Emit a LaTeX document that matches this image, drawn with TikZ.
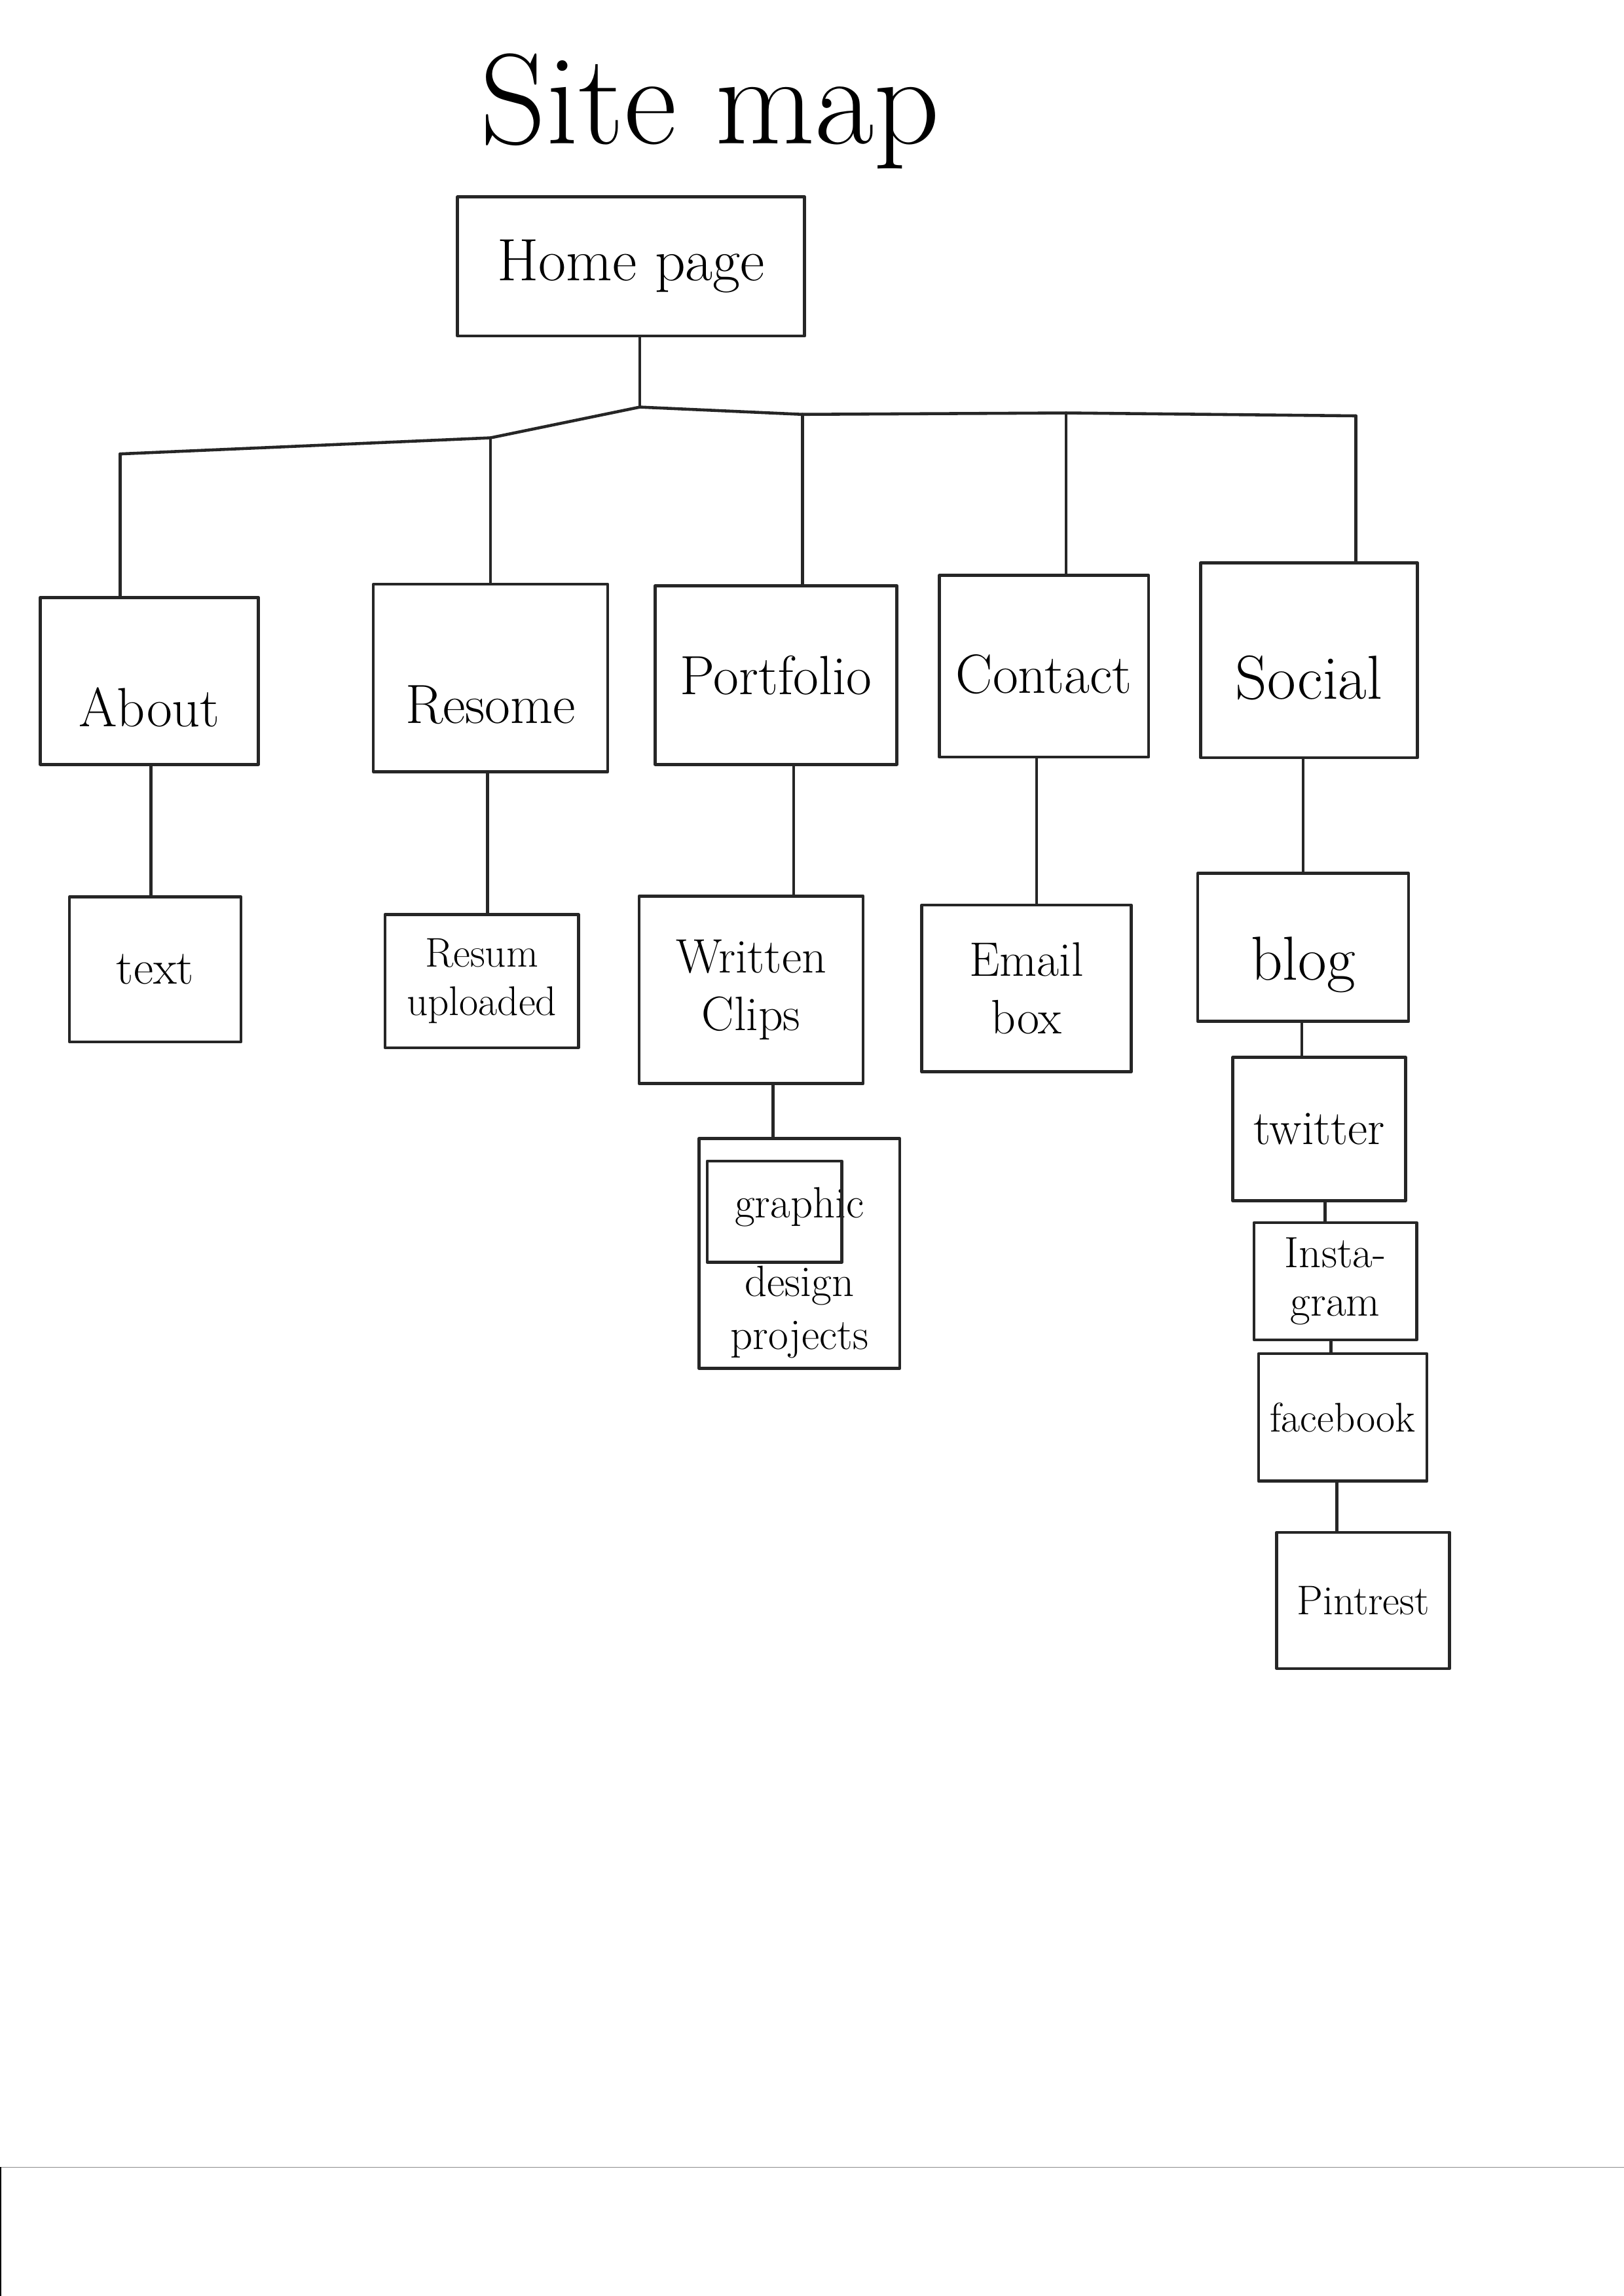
\documentclass[tikz,border=0pt]{standalone}
\usepackage{fontspec}
\setmainfont{Latin Modern Roman}
\begin{document}
\begin{tikzpicture}[x=0.02236cm,y=-0.02236cm,
  pen/.style={line width=1.3pt, draw=black!85, line cap=round, line join=round},
  box/.style={pen, inner sep=0pt, align=center},
  sz/.style 2 args={minimum width=#1*0.2236mm, minimum height=#2*0.2236mm},
  big/.style={font=\fontsize{24}{28}\selectfont},
  mid/.style={font=\fontsize{21}{25}\selectfont},
  small/.style={font=\fontsize{18}{21}\selectfont}]
\useasboundingbox (0,0) rectangle (1109,1568);
\fill[white] (0,0) rectangle (1109,1568);

% title
\node[font=\fontsize{56}{64}\selectfont] (title) at (485,76) {Site map};

% root
\node[box, sz={237}{95}, font=\fontsize{26}{30}\selectfont] (home) at (431,182) {Home page};

% level 1
\node[box, sz={149}{114}, big, text height=40pt] (about) at (102,465) {About};
\node[box, sz={160}{128}, big, text height=40pt] (resome) at (335,463) {Resome};
\node[box, sz={165}{122}, big] (portfolio) at (530,461) {Portfolio};
\node[box, sz={143}{124}, big, text height=24pt] (contact) at (713,455) {Contact};
\node[box, sz={148}{133}, font=\fontsize{27}{30}\selectfont, text height=34pt] (social) at (894,451) {Social};

% level 2
\node[box, sz={117}{99}, mid] (text) at (106,662) {text};
\node[box, sz={132}{91}, small] (resup) at (329,670) {Resum\\uploaded};
\node[box, sz={153}{128}, mid] (written) at (513,676) {Written\\Clips};
\node[box, sz={143}{114}, mid] (email) at (701,675) {Email\\box};
\node[box, sz={144}{101}, font=\fontsize{27}{30}\selectfont, text height=34pt] (blog) at (890,647) {blog};

% level 3
\node[box, sz={137}{157}, font=\fontsize{19}{22}\selectfont] (graphic) at (546,856) {\rule{0pt}{30pt}graphic\\[12pt]design\\[1pt]projects};
\draw[pen] (483,793) rectangle (575,862);
\node[box, sz={118}{98}, mid] (twitter) at (901,771) {twitter};
\node[box, sz={111}{80}, font=\fontsize{19}{21}\selectfont] (insta) at (912,875) {Insta-\\gram};
\node[box, sz={115}{87}, small] (facebook) at (917,968) {facebook};
\node[box, sz={118}{93}, small] (pintrest) at (931,1093) {Pintrest};

% bar from home page
\coordinate (j0) at (437,278);
\coordinate (j1) at (82,310);
\coordinate (j2) at (335,299);
\coordinate (j3) at (548,283);
\coordinate (j4) at (728,282);
\coordinate (j5) at (926,284);
\draw[pen] (home.south -| j0) -- (j0);
\draw[pen] (j1) -- (j2) -- (j0) -- (j3) -- (j4) -- (j5);
\draw[pen] (j1) -- (j1 |- about.north);
\draw[pen] (j2) -- (j2 |- resome.north);
\draw[pen] (j3) -- (j3 |- portfolio.north);
\draw[pen] (j4) -- (j4 |- contact.north);
\draw[pen] (j5) -- (j5 |- social.north);

% x positions of the lower links
\coordinate (x1) at (103,0);
\coordinate (x2) at (333,0);
\coordinate (x3) at (542,0);
\coordinate (x4) at (708,0);
\coordinate (x5) at (890,0);
\coordinate (x6) at (528,0);
\coordinate (x7) at (889,0);
\coordinate (x8) at (905,0);
\coordinate (x9) at (909,0);
\coordinate (x10) at (913,0);

% children links
\draw[pen] (about.south -| x1) -- (text.north -| x1);
\draw[pen] (resome.south -| x2) -- (resup.north -| x2);
\draw[pen] (portfolio.south -| x3) -- (written.north -| x3);
\draw[pen] (contact.south -| x4) -- (email.north -| x4);
\draw[pen] (social.south -| x5) -- (blog.north -| x5);
\draw[pen] (written.south -| x6) -- (graphic.north -| x6);
\draw[pen] (blog.south -| x7) -- (twitter.north -| x7);
\draw[pen] (twitter.south -| x8) -- (insta.north -| x8);
\draw[pen] (insta.south -| x9) -- (facebook.north -| x9);
\draw[pen] (facebook.south -| x10) -- (pintrest.north -| x10);

% scan edge
\draw[black!45, line width=0.4pt] (0,1480) -- (1109,1480);
\draw[black, line width=0.6pt] (0.5,1480) -- (0.5,1568);
\end{tikzpicture}
\end{document}
